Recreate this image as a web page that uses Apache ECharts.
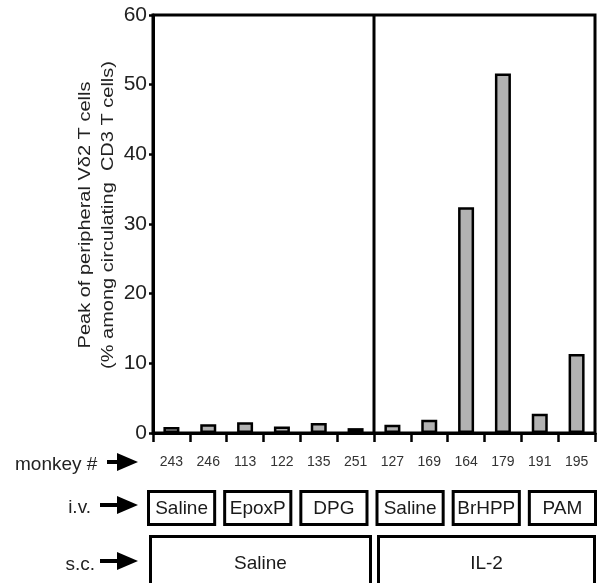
<!DOCTYPE html>
<html><head><meta charset="utf-8">
<script src="https://cdn.jsdelivr.net/npm/echarts@6/dist/echarts.min.js"></script>
<style>html,body{margin:0;padding:0;background:#fff}#c{width:601px;height:583px}</style>
</head><body><div id="c"></div>
<script>
// ---- data ----
const monkeys = ['243','246','113','122','135','251','127','169','164','179','191','195'];
const peakValues = [0.85, 1.25, 1.55, 0.95, 1.45, 0.7, 1.2, 1.9, 32.4, 51.6, 2.75, 11.35];
const yTicks = [0, 10, 20, 30, 40, 50, 60];
const ivGroups = ['Saline', 'EpoxP', 'DPG', 'Saline', 'BrHPP', 'PAM'];
const scGroups = ['Saline', 'IL-2'];
const yTitle = ['Peak of peripheral V\u03b42 T cells', '(% among circulating  CD3 T cells)'];
const rowLabels = ['monkey #', 'i.v.', 's.c.'];

// ---- layout ----
const FONT = '"Liberation Sans", Arial, Helvetica, sans-serif';
const chart = echarts.init(document.getElementById('c'), null, {renderer: 'canvas'});

chart.setOption({
  animation: false,
  backgroundColor: '#fff',
  grid: {left: 153, right: 6, top: 15, bottom: 150, show: true, borderColor: '#000', borderWidth: 3},
  xAxis: {
    type: 'category', data: monkeys, boundaryGap: true,
    axisLine: {lineStyle: {color: '#000', width: 3}},
    axisTick: {show: true, length: 9, lineStyle: {color: '#000', width: 2.5}},
    axisLabel: {fontSize: 14, color: '#333', margin: 22, fontFamily: FONT, interval: 0}
  },
  yAxis: {
    type: 'value', min: yTicks[0], max: yTicks[yTicks.length - 1], interval: 10,
    splitLine: {show: false},
    axisLine: {show: true, lineStyle: {color: '#000', width: 3}},
    axisTick: {show: true, length: 4, lineStyle: {color: '#000', width: 2.5}},
    axisLabel: {fontSize: 21, color: '#222', margin: 6, fontFamily: FONT}
  },
  series: [{
    type: 'bar', data: peakValues, barWidth: 16,
    itemStyle: {color: '#b2b2b2', borderColor: '#000', borderWidth: 2.5}
  }]
});

function build() {
  const gx = i => chart.convertToPixel({xAxisIndex: 0}, i);
  const gy = v => chart.convertToPixel({yAxisIndex: 0}, v);
  const divX = (gx(5) + gx(6)) / 2;
  const yTop = gy(60), yBot = gy(0);
  const els = [];
  els.push({type: 'line', shape: {x1: divX, y1: yTop, x2: divX, y2: yBot}, style: {stroke: '#000', lineWidth: 3}, z: 10});

  // y-axis title (two rotated lines)
  els.push({type: 'text', x: 97.5, y: 215, rotation: Math.PI / 2, scaleX: 1.25, scaleY: 1,
    style: {text: yTitle.join('\n'), font: '16px ' + FONT, fill: '#222', lineHeight: 23,
      align: 'center', verticalAlign: 'middle', textAlign: 'center', textVerticalAlign: 'middle'}});

  // row labels + arrows
  const rows = [
    {label: rowLabels[0], lx: 15, ly: 465, align: 'left', ay: 462, ax0: 107},
    {label: rowLabels[1], lx: 91, ly: 508, align: 'right', ay: 505, ax0: 100},
    {label: rowLabels[2], lx: 95, ly: 565, align: 'right', ay: 561, ax0: 100}
  ];
  rows.forEach(r => {
    els.push({type: 'text', x: r.lx, y: r.ly,
      style: {text: r.label, font: '19px ' + FONT, fill: '#222', align: r.align, verticalAlign: 'middle', textAlign: r.align, textVerticalAlign: 'middle'}});
    els.push({type: 'rect', shape: {x: r.ax0, y: r.ay - 2, width: 118 - r.ax0, height: 4}, style: {fill: '#000'}});
    els.push({type: 'polygon', shape: {points: [[117, r.ay - 9], [138, r.ay], [117, r.ay + 9]]}, style: {fill: '#000'}});
  });

  // i.v. boxes
  const rowL = 147, rowR = 597, gap = 7;
  const bw = (rowR - rowL - gap * (ivGroups.length - 1)) / ivGroups.length;
  ivGroups.forEach((g, i) => {
    const x0 = rowL + i * (bw + gap);
    els.push({type: 'rect', shape: {x: x0 + 1.5, y: 491.5, width: bw - 3, height: 33}, style: {fill: '#fff', stroke: '#000', lineWidth: 3}});
    els.push({type: 'text', x: x0 + bw / 2, y: 509,
      style: {text: g, font: '19px ' + FONT, fill: '#1a1a1a', align: 'center', verticalAlign: 'middle', textAlign: 'center', textVerticalAlign: 'middle'}});
  });
  // s.c. boxes
  const scBounds = [[149, 372], [377, 596]];
  scGroups.forEach((g, i) => {
    const [a, b] = scBounds[i];
    els.push({type: 'rect', shape: {x: a + 1.5, y: 536.5, width: b - a - 3, height: 70}, style: {fill: '#fff', stroke: '#000', lineWidth: 3}});
    els.push({type: 'text', x: (a + b) / 2, y: 564,
      style: {text: g, font: '19px ' + FONT, fill: '#1a1a1a', align: 'center', verticalAlign: 'middle', textAlign: 'center', textVerticalAlign: 'middle'}});
  });
  chart.setOption({graphic: els});
}
build();
</script>
</body></html>
